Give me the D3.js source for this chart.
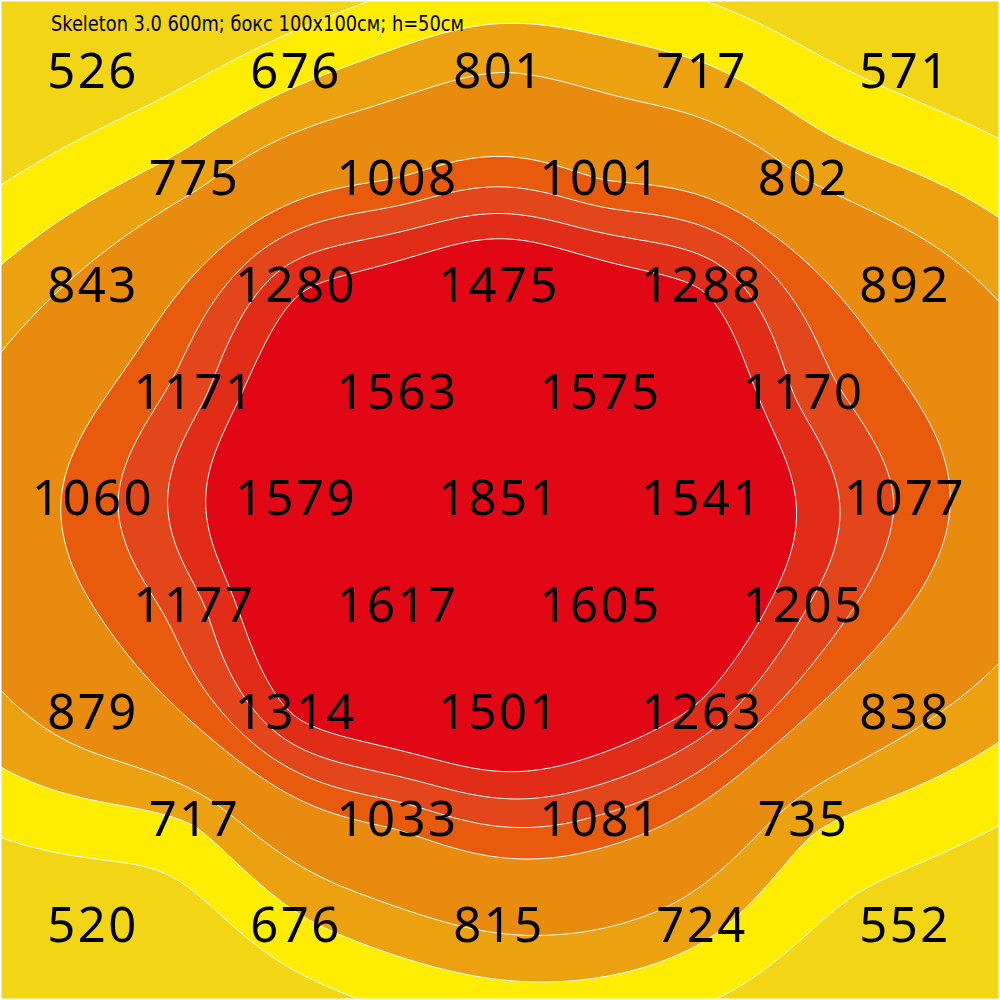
<!DOCTYPE html>
<html>
<head>
<meta charset="utf-8">
<script src="https://cdn.jsdelivr.net/npm/d3@7"></script>
<style>
  html, body { margin: 0; padding: 0; background: #fff; }
  svg { display: block; }
</style>
</head>
<body>
<svg id="chart" width="1000" height="1000"></svg>
<script>
// ---- Data (measured PPFD values, checkerboard layout, null = no measurement) ----
const title = "Skeleton 3.0 600m; бокс 100x100см; h=50см";
const row0 = [526, null, 676, null, 801, null, 717, null, 571];
const row1 = [null, 775, null, 1008, null, 1001, null, 802, null];
const row2 = [843, null, 1280, null, 1475, null, 1288, null, 892];
const row3 = [null, 1171, null, 1563, null, 1575, null, 1170, null];
const row4 = [1060, null, 1579, null, 1851, null, 1541, null, 1077];
const row5 = [null, 1177, null, 1617, null, 1605, null, 1205, null];
const row6 = [879, null, 1314, null, 1501, null, 1263, null, 838];
const row7 = [null, 717, null, 1033, null, 1081, null, 735, null];
const row8 = [520, null, 676, null, 815, null, 724, null, 552];
const thresholds = [600, 700, 800, 1000, 1100, 1200, 1300];
const bandColors = ["#F2D515", "#FFED00", "#ECA111", "#E88B0E", "#E85B0D", "#E2461A", "#E12C18", "#E20714"];

const rows = [row0, row1, row2, row3, row4, row5, row6, row7, row8];
const W = 1000, H = 1000;
const svg = d3.select("#chart");

const x = d3.scaleLinear().domain([0, 8]).range([93, 905]);
const y = d3.scaleLinear().domain([0, 8]).range([71, 925]);

const pts = [];
rows.forEach((r, j) => r.forEach((v, i) => { if (v != null) pts.push({ i, j, v, px: x(i), py: y(j) }); }));

// ---- Thin-plate spline through the measured points ----
const n = pts.length;
const N = n + 3;
const phi = r => (r <= 1e-12 ? 0 : r * r * Math.log(r));
const nx = p => p / W, ny = p => p / H;
const A = [];
for (let a = 0; a < N; a++) A.push(new Array(N + 1).fill(0));
for (let a = 0; a < n; a++) {
  for (let b = 0; b < n; b++) {
    const dx = nx(pts[a].px) - nx(pts[b].px), dy = ny(pts[a].py) - ny(pts[b].py);
    A[a][b] = phi(Math.hypot(dx, dy));
  }
  A[a][n] = 1; A[a][n + 1] = nx(pts[a].px); A[a][n + 2] = ny(pts[a].py);
  A[n][a] = 1; A[n + 1][a] = nx(pts[a].px); A[n + 2][a] = ny(pts[a].py);
  A[a][N] = pts[a].v;
}
for (let c = 0; c < N; c++) {
  let piv = c;
  for (let r = c + 1; r < N; r++) if (Math.abs(A[r][c]) > Math.abs(A[piv][c])) piv = r;
  [A[c], A[piv]] = [A[piv], A[c]];
  for (let r = 0; r < N; r++) {
    if (r === c) continue;
    const f = A[r][c] / A[c][c];
    if (f === 0) continue;
    for (let k = c; k <= N; k++) A[r][k] -= f * A[c][k];
  }
}
const sol = A.map((row, k) => row[N] / row[k]);
const wts = sol.slice(0, n), aff = sol.slice(n);
function field(X, Y) {
  const u = nx(X), v = ny(Y);
  let s = aff[0] + aff[1] * u + aff[2] * v;
  for (let k = 0; k < n; k++) s += wts[k] * phi(Math.hypot(u - nx(pts[k].px), v - ny(pts[k].py)));
  return s;
}

// ---- Grid + contours ----
const step = 4;
const gw = Math.round(W / step) + 1, gh = Math.round(H / step) + 1;
const grid = new Array(gw * gh);
for (let j = 0; j < gh; j++) for (let i = 0; i < gw; i++) grid[j * gw + i] = field(i * step, j * step);

const contours = d3.contours().size([gw, gh]).thresholds(thresholds)(grid);
const path = d3.geoPath(d3.geoIdentity().scale(step));

svg.append("rect").attr("x", 0).attr("y", 0).attr("width", W).attr("height", H).attr("fill", bandColors[0]);

svg.append("g").selectAll("path").data(contours).join("path")
  .attr("d", path)
  .attr("fill", (d, k) => bandColors[k + 1])
  .attr("stroke", "#ffffff")
  .attr("stroke-width", 1)
  .attr("stroke-linejoin", "round");

svg.append("rect").attr("x", 0).attr("y", 0).attr("width", W).attr("height", H)
  .attr("fill", "none").attr("stroke", "#ffffff").attr("stroke-width", 3);

// ---- Labels ----
const fs = 49;
svg.append("g").selectAll("text").data(pts).join("text")
  .attr("x", d => d.px)
  .attr("y", d => d.py + fs * 0.357)
  .attr("text-anchor", "middle")
  .attr("font-family", "'Noto Sans', sans-serif")
  .attr("font-size", fs)
  .attr("letter-spacing", 2.5)
  .attr("fill", "#000")
  .text(d => d.v);

svg.append("text")
  .attr("x", 51).attr("y", 31)
  .attr("font-family", "'Liberation Sans Narrow', 'DejaVu Sans Condensed', sans-serif")
  .attr("font-size", 22)
  .attr("textLength", 413)
  .attr("lengthAdjust", "spacingAndGlyphs")
  .attr("fill", "#000")
  .text(title);
</script>
</body>
</html>
